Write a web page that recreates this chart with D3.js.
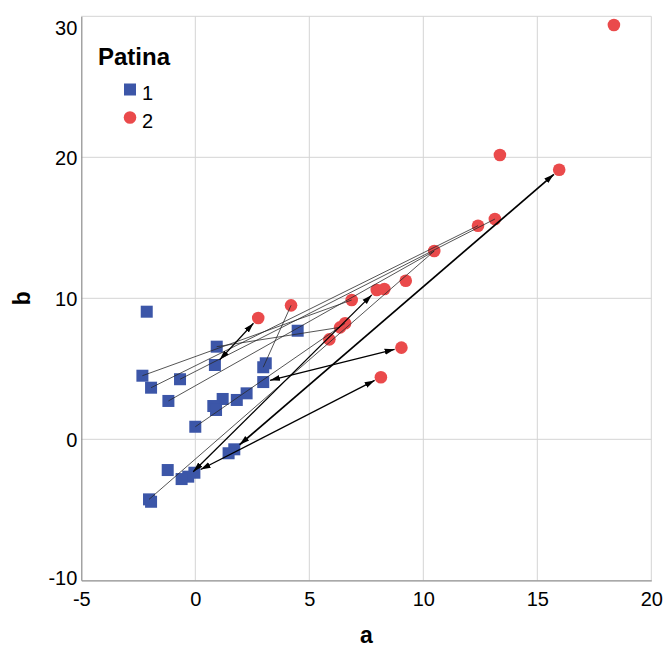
<!DOCTYPE html>
<html>
<head>
<meta charset="utf-8">
<script src="https://cdn.jsdelivr.net/npm/d3@7"></script>
<style>
  body { margin: 0; background: #fff; }
  text { font-family: "Liberation Sans", Arial, sans-serif; }
</style>
</head>
<body>
<script>
// Patina 1 (blue squares)
var blue_a = [-2.13, 0.94, 0.86, -2.32, -0.67, -1.94, -1.18, 2.98, 3.09, 2.98, 2.25, 1.82, 1.20,
              0.79, 0.91, 0.00, 1.71, 1.46, -1.21, -0.04, -0.31, -0.60, -2.03, -1.94, 4.49];
var blue_b = [9.05, 6.57, 5.27, 4.51, 4.26, 3.66, 2.72, 5.11, 5.39, 4.06, 3.26, 2.79, 2.86,
              2.36, 2.08, 0.89, -0.71, -0.99, -2.18, -2.37, -2.65, -2.82, -4.26, -4.43, 7.70];

// Patina 2 (red circles)
var red_a = [2.76, 4.20, 5.88, 6.35, 6.57, 6.86, 7.96, 8.29, 9.23, 10.48, 12.40, 13.14, 13.36, 15.96, 18.36, 9.04, 8.14];
var red_b = [8.60, 9.50, 7.09, 7.94, 8.23, 9.88, 10.59, 10.66, 11.25, 13.35, 15.15, 15.62, 20.16, 19.12, 29.38, 6.50, 4.40];

// connections: blue index -> red index, arrow heads or not
var link_blue  = [3, 6, 4, 5, 7, 1, 15, 22, 2, 9, 19, 16, 20];
var link_red   = [5, 9, 11, 10, 1, 3, 4, 9, 0, 15, 16, 13, 6];
var link_arrow = [0, 0, 0, 0, 0, 0, 0, 0, 1, 1, 1, 2, 1];

var x_ticks = [-5, 0, 5, 10, 15, 20];
var y_ticks = [-10, 0, 10, 20, 30];
var legend_labels = ["1", "2"];

var W = 666, H = 652;
var x_scale = d3.scaleLinear().domain([-5, 20]).range([81.3, 651.3]);
var y_scale = d3.scaleLinear().domain([-10, 30]).range([580.3, 16.3]);

var blue_col = "#3c56a8", red_col = "#ea4a4b";

var svg = d3.select("body").append("svg")
    .attr("width", W)
    .attr("height", H);

var defs = svg.append("defs");
defs.append("marker")
    .attr("id", "arrow")
    .attr("viewBox", "0 0 10 10")
    .attr("refX", 10)
    .attr("refY", 5)
    .attr("markerUnits", "userSpaceOnUse")
    .attr("markerWidth", 10)
    .attr("markerHeight", 10)
    .attr("orient", "auto-start-reverse")
  .append("path")
    .attr("d", "M0,2L10,5L0,8Z")
    .attr("fill", "#000");

// grid
svg.append("g").selectAll("line")
    .data(x_ticks.slice(1))
  .enter().append("line")
    .attr("x1", function(d) { return x_scale(d); })
    .attr("x2", function(d) { return x_scale(d); })
    .attr("y1", y_scale(-10))
    .attr("y2", y_scale(30))
    .attr("stroke", "#d4d4d4")
    .attr("stroke-width", 1);
svg.append("g").selectAll("line")
    .data(y_ticks.slice(1))
  .enter().append("line")
    .attr("x1", x_scale(-5))
    .attr("x2", x_scale(20))
    .attr("y1", function(d) { return y_scale(d); })
    .attr("y2", function(d) { return y_scale(d); })
    .attr("stroke", "#d4d4d4")
    .attr("stroke-width", 1);

// axes (plain hyphen for negatives, like the original)
var fmt = function(d) { return String(d); };
var x_axis = d3.axisBottom(x_scale).tickValues(x_ticks).tickFormat(fmt).tickSize(0).tickPadding(12);
var y_axis = d3.axisLeft(y_scale).tickValues(y_ticks).tickFormat(fmt).tickSize(0).tickPadding(4);

var gx = svg.append("g")
    .attr("transform", "translate(0," + y_scale(-10) + ")")
    .call(x_axis);
var gy = svg.append("g")
    .attr("transform", "translate(" + x_scale(-5) + ",0)")
    .call(y_axis);
[gx, gy].forEach(function(g) {
  g.select(".domain").attr("stroke", "#8c8c8c").attr("stroke-width", 1.2);
  g.selectAll("text").attr("font-size", "20px").attr("fill", "#000")
      .style("font-family", "'Liberation Sans', Arial, sans-serif");
});
gy.selectAll(".tick text").attr("dy", function(d) { return d === 30 ? "0.9em" : (d === -10 ? "0.2em" : "0.35em"); });

svg.append("text")
    .attr("x", (x_scale(-5) + x_scale(20)) / 2)
    .attr("y", 643)
    .attr("text-anchor", "middle")
    .attr("font-size", "23px")
    .attr("font-weight", "bold")
    .text("a");
svg.append("text")
    .attr("transform", "translate(30," + (y_scale(-10) + y_scale(30)) / 2 + ") rotate(-90)")
    .attr("text-anchor", "middle")
    .attr("font-size", "23px")
    .attr("font-weight", "bold")
    .text("b");

// markers
var blue = blue_a.map(function(a, i) { return {a: a, b: blue_b[i]}; });
var red = red_a.map(function(a, i) { return {a: a, b: red_b[i]}; });

svg.append("g").selectAll("rect")
    .data(blue)
  .enter().append("rect")
    .attr("x", function(d) { return x_scale(d.a) - 6; })
    .attr("y", function(d) { return y_scale(d.b) - 6; })
    .attr("width", 12)
    .attr("height", 12)
    .attr("fill", blue_col);

svg.append("g").selectAll("circle")
    .data(red)
  .enter().append("circle")
    .attr("cx", function(d) { return x_scale(d.a); })
    .attr("cy", function(d) { return y_scale(d.b); })
    .attr("r", 6.3)
    .attr("fill", red_col);

// connecting lines, drawn over the markers
var links = link_blue.map(function(bi, i) {
  return {p: blue[bi], q: red[link_red[i]], arrow: link_arrow[i]};
});

svg.append("g").selectAll("line")
    .data(links)
  .enter().append("line")
    .each(function(d) {
      var x1 = x_scale(d.p.a), y1 = y_scale(d.p.b),
          x2 = x_scale(d.q.a), y2 = y_scale(d.q.b);
      if (d.arrow) {
        var dx = x2 - x1, dy = y2 - y1, len = Math.sqrt(dx * dx + dy * dy);
        var c = 7 / len;
        x1 += dx * c; y1 += dy * c; x2 -= dx * c; y2 -= dy * c;
      }
      d3.select(this)
          .attr("x1", x1).attr("y1", y1)
          .attr("x2", x2).attr("y2", y2);
    })
    .attr("stroke", function(d) { return d.arrow ? "#000" : "#2a2a2a"; })
    .attr("stroke-width", function(d) { return d.arrow === 2 ? 1.7 : (d.arrow ? 1.3 : 0.8); })
    .attr("marker-start", function(d) { return d.arrow ? "url(#arrow)" : null; })
    .attr("marker-end", function(d) { return d.arrow ? "url(#arrow)" : null; });

// legend
var legend = svg.append("g");
legend.append("text")
    .attr("x", 98)
    .attr("y", 65)
    .attr("font-size", "24px")
    .attr("font-weight", "bold")
    .text("Patina");
legend.append("rect")
    .attr("x", 124).attr("y", 83.5)
    .attr("width", 12).attr("height", 12)
    .attr("fill", blue_col);
legend.append("circle")
    .attr("cx", 130).attr("cy", 117.5)
    .attr("r", 6.3)
    .attr("fill", red_col);
legend.selectAll(".lab")
    .data(legend_labels)
  .enter().append("text")
    .attr("class", "lab")
    .attr("x", 142)
    .attr("y", function(d, i) { return 100 + i * 28; })
    .attr("font-size", "20px")
    .text(function(d) { return d; });
</script>
</body>
</html>
